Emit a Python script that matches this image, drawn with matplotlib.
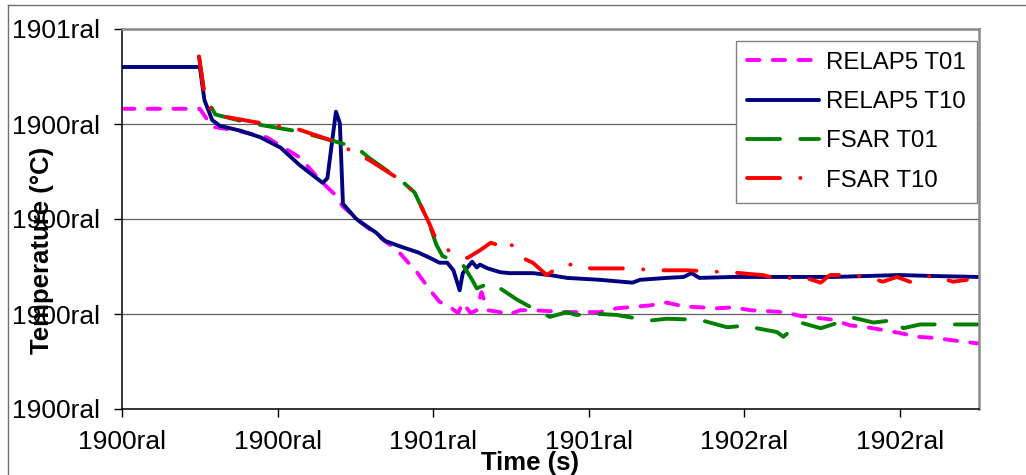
import matplotlib
matplotlib.use("Agg")
import matplotlib.pyplot as plt
from matplotlib.lines import Line2D

plt.rcParams['font.family'] = ['Liberation Sans', 'DejaVu Sans']

# ---- data (x in tick units, y in gridline units) ----
x_tick_labels = ["1900ral", "1900ral", "1901ral", "1901ral", "1902ral", "1902ral"]
y_tick_labels = ["1900ral", "1900ral", "1900ral", "1900ral", "1901ral"]

relap_t01_x = [0, 0.50, 0.58, 0.71, 0.93, 1.14, 1.29, 1.36, 1.42, 1.57, 1.68, 1.77, 1.90, 1.98,
               2.04, 2.11, 2.16, 2.19, 2.24, 2.28, 2.31, 2.35, 2.43, 2.48, 2.56, 2.64, 2.86, 3.07,
               3.18, 3.39, 3.50, 3.61, 3.82, 3.93, 4.04, 4.25, 4.36, 4.57, 4.68, 4.79, 5.00, 5.11,
               5.21, 5.50]
relap_t01_y = [3.16, 3.16, 2.97, 2.94, 2.86, 2.65, 2.38, 2.27, 2.13, 1.92, 1.78, 1.67, 1.43, 1.25,
               1.13, 1.07, 1.01, 1.12, 1.01, 1.04, 1.23, 1.04, 1.02, 0.99, 1.04, 1.04, 1.02, 1.02,
               1.06, 1.09, 1.12, 1.08, 1.06, 1.07, 1.04, 1.02, 0.98, 0.94, 0.88, 0.86, 0.80, 0.76,
               0.75, 0.69]

relap_t10_x = [0, 0.50, 0.53, 0.58, 0.63, 0.76, 0.89, 1.02, 1.14, 1.29, 1.32, 1.375, 1.40, 1.42,
               1.50, 1.53, 1.63, 1.69, 1.79, 1.90, 1.98, 2.04, 2.09, 2.13, 2.17, 2.19, 2.25, 2.28,
               2.30, 2.35, 2.43, 2.49, 2.56, 2.64, 2.75, 2.86, 3.07, 3.28, 3.33, 3.50, 3.61, 3.66,
               3.71, 3.93, 4.15, 4.36, 4.57, 4.79, 5.00, 5.21, 5.50]
relap_t10_y = [3.60, 3.60, 3.25, 3.04, 2.98, 2.93, 2.86, 2.75, 2.57, 2.38, 2.43, 3.13, 3.01, 2.16,
               2.01, 1.97, 1.86, 1.77, 1.71, 1.65, 1.59, 1.54, 1.54, 1.46, 1.25, 1.43, 1.55, 1.49,
               1.52, 1.48, 1.44, 1.43, 1.43, 1.43, 1.41, 1.38, 1.36, 1.33, 1.36, 1.38, 1.39, 1.43,
               1.38, 1.39, 1.39, 1.39, 1.39, 1.40, 1.41, 1.40, 1.39]

fsar_t01_x = [0.495, 0.53, 0.60, 0.82, 1.14, 1.34, 1.51, 1.59, 1.79, 1.88, 1.97, 2.02, 2.06, 2.19,
              2.25, 2.28, 2.37, 2.43, 2.54, 2.64, 2.75, 2.86, 2.92, 3.07, 3.18, 3.39, 3.50, 3.71,
              3.89, 4.02, 4.08, 4.21, 4.25, 4.36, 4.49, 4.70, 4.83, 4.98, 5.02, 5.13, 5.34, 5.50]
fsar_t01_y = [3.71, 3.31, 3.10, 3.01, 2.92, 2.83, 2.75, 2.64, 2.41, 2.28, 1.97, 1.73, 1.61, 1.52,
              1.36, 1.27, 1.33, 1.27, 1.15, 1.06, 0.97, 1.02, 0.99, 1.00, 0.99, 0.93, 0.95, 0.94,
              0.86, 0.88, 0.85, 0.81, 0.76, 0.91, 0.85, 0.96, 0.91, 0.94, 0.85, 0.89, 0.89, 0.89]

fsar_t10_x = [0.495, 0.53, 0.585, 0.82, 1.14, 1.34, 1.59, 1.79, 1.88, 1.97, 2.02, 2.12, 2.22, 2.30,
              2.37, 2.41, 2.48, 2.56, 2.64, 2.73, 2.83, 2.96, 3.01, 3.18, 3.28, 3.41, 3.63, 3.76,
              3.91, 4.04, 4.12, 4.23, 4.36, 4.49, 4.55, 4.66, 4.79, 4.89, 4.98, 5.08, 5.21, 5.34,
              5.43]
fsar_t10_y = [3.71, 3.31, 3.10, 3.03, 2.94, 2.83, 2.62, 2.41, 2.28, 1.97, 1.78, 1.64, 1.59, 1.67,
              1.75, 1.73, 1.78, 1.60, 1.54, 1.41, 1.52, 1.52, 1.48, 1.48, 1.48, 1.46, 1.46, 1.45,
              1.44, 1.42, 1.41, 1.36, 1.40, 1.33, 1.41, 1.41, 1.39, 1.34, 1.39, 1.33, 1.41, 1.34,
              1.36]

series_names = ["RELAP5 T01", "RELAP5 T10", "FSAR T01", "FSAR T10"]

# ---- figure ----
W, H = 1026, 475
fig = plt.figure(figsize=(W / 100, H / 100), dpi=100)
ax = fig.add_axes([122 / W, 1 - 409 / H, (979 - 122) / W, (409 - 29) / H])

lw = 2.8
ax.plot(relap_t01_x, relap_t01_y, color='#FF00FF', lw=lw, dashes=(3.2, 3.4),
        dash_capstyle='round', solid_capstyle='round', label=series_names[0])
ax.plot(relap_t10_x, relap_t10_y, color='#000080', lw=lw, solid_joinstyle='round',
        solid_capstyle='round', label=series_names[1])
ax.plot(fsar_t01_x, fsar_t01_y, color='#008000', lw=lw, dashes=(8.5, 5.2),
        dash_capstyle='round', label=series_names[2])
ax.plot(fsar_t10_x, fsar_t10_y, color='#FF0000', lw=lw, dashes=(8.5, 5.2, 0.05, 5.2),
        dash_capstyle='round', label=series_names[3])

ax.set_xlim(0, (979 - 122) / 155.6)
ax.set_ylim(0, 4)
ax.set_xticks(range(len(x_tick_labels)))
ax.set_xticklabels(x_tick_labels)
ax.set_yticks(range(len(y_tick_labels)))
ax.set_yticklabels(y_tick_labels)
ax.tick_params(axis='both', direction='out', length=6, width=1, labelsize=19, color='black')
ax.tick_params(axis='y', pad=10)
ax.tick_params(axis='x', pad=9)

ax.grid(axis='y', color='#606060', lw=0.9)
ax.set_axisbelow(True)
for s in ['left', 'bottom']:
    ax.spines[s].set_color('black')
    ax.spines[s].set_linewidth(1.1)
for s in ['top', 'right']:
    ax.spines[s].set_color('#8a8a8a')
    ax.spines[s].set_linewidth(1.8)

leg = ax.legend(loc='upper right', bbox_to_anchor=(977 / W, 1 - 41 / H),
                bbox_transform=fig.transFigure, borderaxespad=0, fancybox=False,
                edgecolor='#808080', framealpha=1, fontsize=17.3, handlelength=3.0,
                handletextpad=0.3, labelspacing=0.72, borderpad=0.45)
leg.get_frame().set_linewidth(1.0)

fig.text(42 / W, 1 - 250 / H, "Temperature (°C)", rotation=90, fontsize=18.5,
         fontweight='bold', ha='center', va='center')
fig.text(530 / W, 1 - 463 / H, "Time (s)", fontsize=18.5, fontweight='bold',
         ha='center', va='center')

# outer chart border (top and left edges visible)
fig.add_artist(Line2D([8 / W, 1.0], [1 - 5 / H, 1 - 5 / H], color='#707070', lw=1.0))
fig.add_artist(Line2D([8 / W, 8 / W], [0, 1 - 5 / H], color='#707070', lw=1.0))

fig.savefig("out.png", dpi=100)
